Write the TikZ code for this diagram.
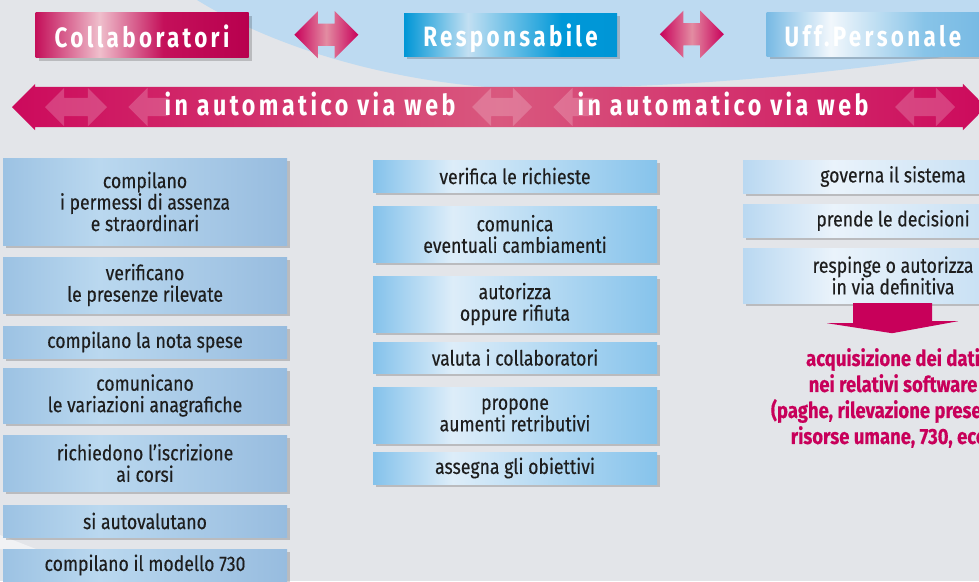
\documentclass[tikz,border=0pt]{standalone}
\usepackage{fontspec}
\setmainfont{Fira Sans}[FakeStretch=0.84,FakeBold=0.3]
\newfontfamily\titfont{Fira Sans}[FakeStretch=0.8,LetterSpace=12]
\usetikzlibrary{shapes.arrows,shadows,calc}
\definecolor{sfondo}{HTML}{E3E5E9}
\definecolor{cielo}{HTML}{BDDAF1}
\definecolor{mag}{HTML}{C8005A}
\definecolor{magchiaro}{HTML}{E38CA2}
\definecolor{testo}{HTML}{1E1E1E}
\definecolor{ca}{HTML}{9CC2E3}\definecolor{cb}{HTML}{BAD8EF}\definecolor{cc}{HTML}{97BCDF}
\definecolor{ra}{HTML}{84C2EB}\definecolor{rb}{HTML}{DDEDF9}\definecolor{rc}{HTML}{86C3EB}
\definecolor{ua}{HTML}{B9D8F1}\definecolor{ub}{HTML}{EAF3FB}\definecolor{uc}{HTML}{BBD9F1}
\definecolor{ha}{HTML}{C4105A}\definecolor{hb}{HTML}{EFBFCC}\definecolor{hc}{HTML}{B8004E}
\definecolor{pa}{HTML}{0096D6}\definecolor{pb}{HTML}{C2DFF2}\definecolor{pc}{HTML}{0098D8}
\definecolor{qa}{HTML}{78BAE4}\definecolor{qb}{HTML}{F2F7FC}\definecolor{qc}{HTML}{88C4E8}
\definecolor{ba}{HTML}{CC0A5C}\definecolor{bb}{HTML}{D9587E}
\pgfdeclarehorizontalshading{collab}{100bp}{color(0bp)=(ca);color(25bp)=(ca);color(42bp)=(cb);color(75bp)=(cc);color(100bp)=(cc)}
\pgfdeclarehorizontalshading{respo}{100bp}{color(0bp)=(ra);color(25bp)=(ra);color(39bp)=(rb);color(75bp)=(rc);color(100bp)=(rc)}
\pgfdeclarehorizontalshading{uffic}{100bp}{color(0bp)=(ua);color(25bp)=(ua);color(40bp)=(ub);color(75bp)=(uc);color(100bp)=(uc)}
\pgfdeclarehorizontalshading{tcollab}{100bp}{color(0bp)=(ha);color(25bp)=(ha);color(40bp)=(hb);color(55bp)=(ha);color(75bp)=(hc);color(100bp)=(hc)}
\pgfdeclarehorizontalshading{trespo}{100bp}{color(0bp)=(pa);color(25bp)=(pa);color(40bp)=(pb);color(62bp)=(pc);color(75bp)=(pa);color(100bp)=(pa)}
\pgfdeclarehorizontalshading{tuffic}{100bp}{color(0bp)=(qa);color(25bp)=(qa);color(40bp)=(qb);color(62bp)=(qc);color(75bp)=(qa);color(100bp)=(qa)}
\pgfdeclarehorizontalshading{fascia}{100bp}{color(0bp)=(ba);color(25bp)=(ba);color(50bp)=(bb);color(75bp)=(ba);color(100bp)=(ba)}
\pgfdeclarehorizontalshading{freccia}{100bp}{color(0bp)=(mag);color(25bp)=(mag);color(50bp)=(magchiaro);color(75bp)=(mag);color(100bp)=(mag)}
\begin{document}
\begin{tikzpicture}[x=1pt,y=-1pt,line join=round,
  ombra/.style={drop shadow={shadow xshift=3pt,shadow yshift=-3pt,opacity=0.18,fill=black}},
  box/.style={minimum width=284,minimum height=#1,inner sep=0pt,align=center,text=testo,
    font=\fontsize{21}{21.5}\selectfont,ombra},
  col1/.style={box=#1,shading=collab},
  col2/.style={box=#1,shading=respo},
  col3/.style={box=#1,shading=uffic,minimum width=300},
  titolo/.style={minimum width=213,minimum height=#1,inner sep=0pt,text=white,text height=24pt,text depth=0pt,
    font=\titfont\bfseries\fontsize{28}{28}\selectfont,ombra},
  frecciona/.style={double arrow,inner xsep=0pt,inner ysep=11pt,minimum height=64,
    double arrow head extend=12.5pt,double arrow tip angle=90,shading=freccia},
  deco/.style={inner xsep=0pt,inner ysep=9pt,fill=white,opacity=0.2,double arrow head extend=10pt,single arrow head extend=10pt},
  web/.style={text=white,text height=16pt,text depth=0pt,font=\titfont\bfseries\fontsize{29}{29}\selectfont}]
% Sfondo
\useasboundingbox (0,0) rectangle (979,581);
\clip (0,0) rectangle (979,581);
\fill[sfondo] (0,0) rectangle (979,581);
\fill[cielo] (197,0) .. controls (270,45) and (380,80) .. (500,88) .. controls (700,90) and (850,70) .. (979,52) -- (979,0) -- cycle;
\fill[white,opacity=0.5] (0,535) -- (36,549) -- (0,549) -- cycle;
% Intestazioni
\node[titolo=45,shading=tcollab] (coll) at (142,35) {Collaboratori};
\node[titolo=43,shading=trespo] (resp) at (510.5,34.5) {Responsabile};
\node[titolo=44,shading=tuffic] (uff) at (873,34) {Uff.Personale};
\node[frecciona] (ar1) at ($(coll.east)!0.5!(resp.west)$) {};
\node[frecciona] (ar2) at ($(resp.east)!0.5!(uff.west)$) {};
% Fascia
\node[double arrow,inner xsep=0pt,inner ysep=20pt,minimum height=974,double arrow head extend=3pt,
  double arrow tip angle=90,shading=fascia] (band) at (499,107) {};
\node[deco,double arrow,minimum height=62] (d1) at (76,107) {};
\node[deco,single arrow,shape border rotate=180,minimum height=40] (d2) at (153,107) {};
\node[deco,double arrow,minimum height=60] (d3) at (502,107) {};
\node[deco,single arrow,shape border rotate=180,minimum height=40] (d4) at (578,107) {};
\node[deco,double arrow,minimum height=60] (d5) at (925,107) {};
\node[web] (web1) at (310,107) {in automatico via web};
\node[web] (web2) at (723,107) {in automatico via web};
% Colonne
\foreach \n/\y/\h/\t in {c1/201.5/87/{compilano\\i permessi di assenza\\e straordinari},
  c2/285/56/{verificano\\le presenze rilevate},c3/342/32/{compilano la nota spese},
  c4/395.5/55/{comunicano\\le variazioni anagrafiche},c5/463/56/{richiedono l'iscrizione\\ai corsi},
  c6/521/32/{si autovalutano},c7/565/32/{compilano il modello 730}}
  \node[col1=\h] (\n) at (145,\y) {\t};
\foreach \n/\y/\h/\t in {r1/176/32/{verifica le richieste},r2/234/56/{comunica\\eventuali cambiamenti},
  r3/304/56/{autorizza\\oppure rifiuta},r4/357.5/31/{valuta i collaboratori},
  r5/415/56/{propone\\aumenti retributivi},r6/468/32/{assegna gli obiettivi}}
  \node[col2=\h] (\n) at (515,\y) {\t};
\foreach \n/\y/\h/\t in {u1/176.5/33/{governa il sistema},u2/220.5/33/{prende le decisioni},
  u3/275.5/55/{respinge o autorizza\\in via definitiva}}
  \node[col3=\h] (\n) at (893,\y) {\t};
\fill[mag,shift={(u3.south)}] (-40,0) -- (39,0) -- (39,18) -- (65,18) -- (-1,30) -- (-66,20) -- (-40,20) -- cycle;
\node[align=center,text=mag,font=\bfseries\fontsize{22}{26}\selectfont] (dati) at (893,398)
  {acquisizione dei dati\\nei relativi software\\(paghe, rilevazione presenze,\\risorse umane, 730, ecc.)};
\end{tikzpicture}
\end{document}
